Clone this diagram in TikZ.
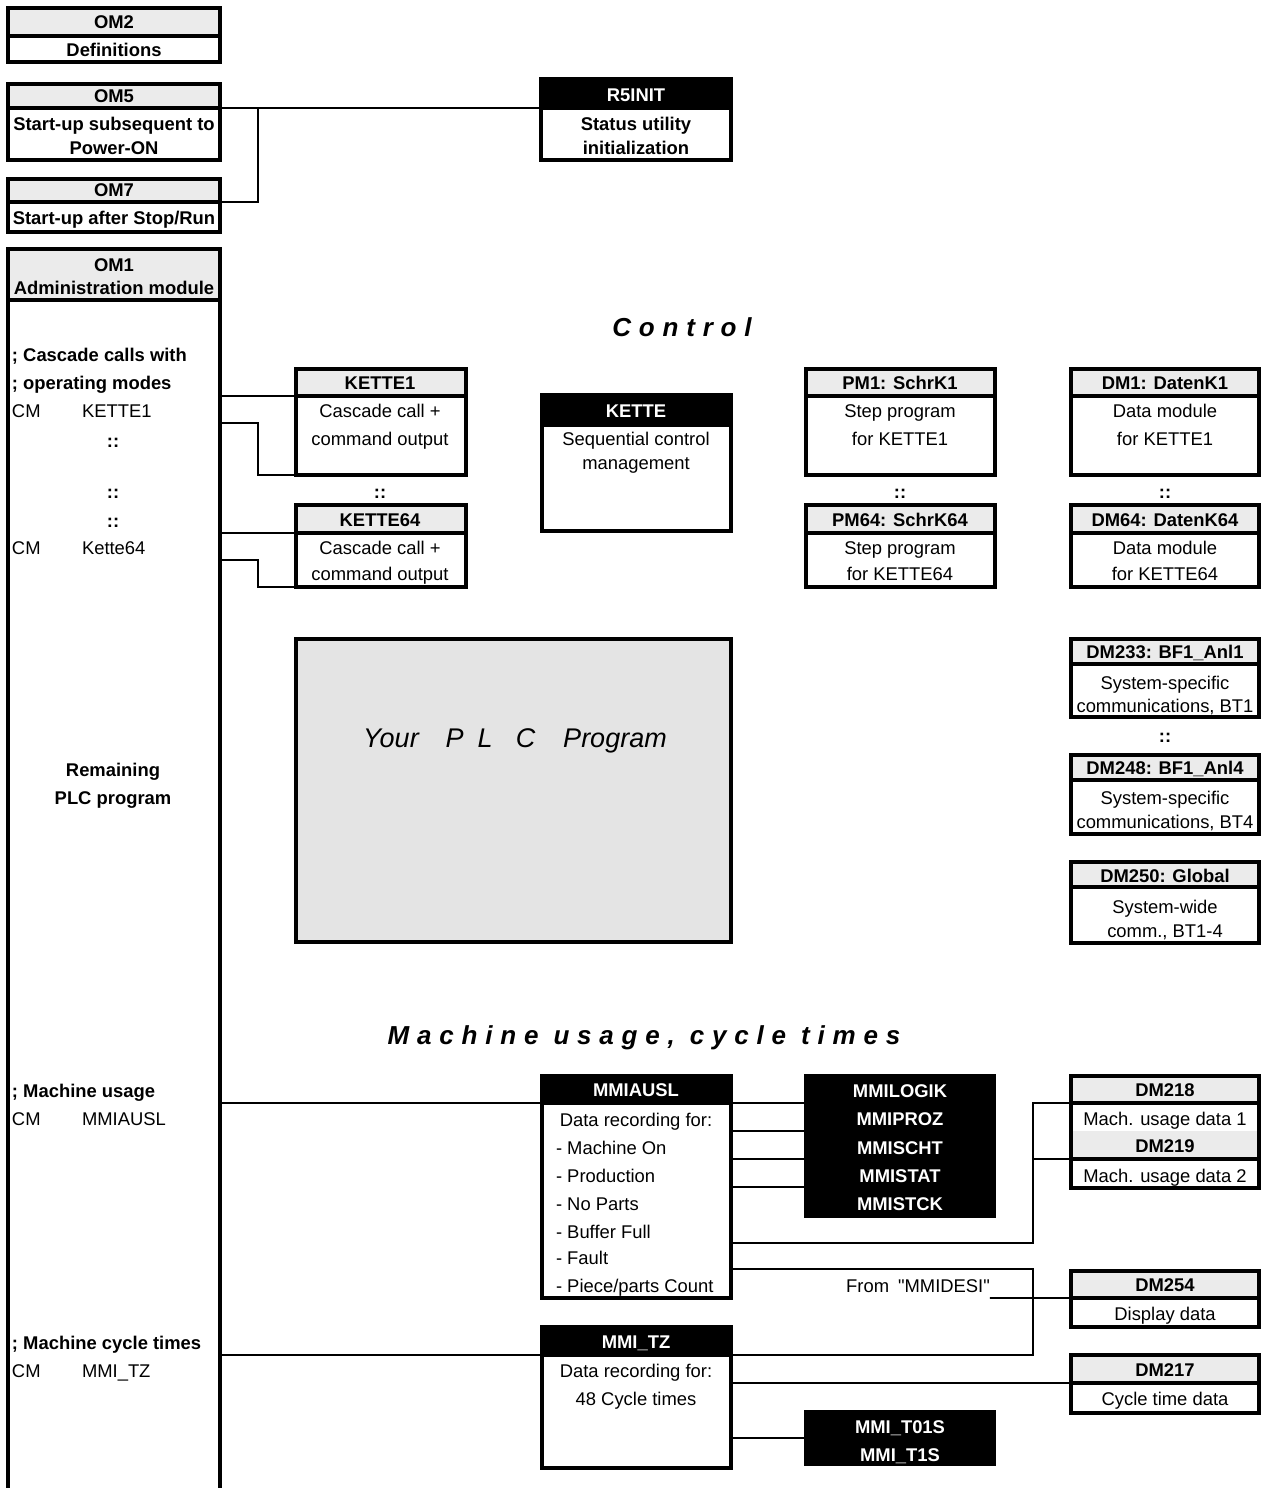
\documentclass[tikz,border=0pt]{standalone}
\usepackage{fontspec}
\setmainfont{Liberation Sans}
\newfontfamily\spacedfont[LetterSpace=30]{Liberation Sans}
\newfontfamily\plainquotes[Ligatures=ResetAll]{Liberation Sans}
\usetikzlibrary{fit}

\definecolor{hdrgray}{HTML}{EBEBEB}
\definecolor{plcgray}{HTML}{E4E4E4}

\tikzset{
  every node/.style={inner sep=0pt, outer sep=0pt},
  frame/.style={draw=black, line width=4pt},
  hdr/.style={draw=black, line width=4pt, fill=hdrgray},
  blk/.style={draw=black, line width=4pt, fill=black},
  conn/.style={line width=2pt, draw=black},
  lbl/.style={font=\fontsize{18.4}{22}\selectfont, text height=13pt, text depth=0pt},
  blbl/.style={font=\fontsize{18.4}{22}\selectfont\bfseries, text height=13pt, text depth=0pt},
  wlbl/.style={blbl, text=white},
  title/.style={font=\fontsize{26}{30}\selectfont\spacedfont\bfseries\itshape, text height=19pt, text depth=0pt},
}

% module box: name, x1, y1, x2, y of header divider, y2, header style
\newcommand\modbox[7]{%
  \node[frame, fit={(#2,#3) (#4,#6)}] (#1) {};
  \node[#7, fit={(#2,#3) (#4,#5)}] (#1h) {};
}

\begin{document}
\begin{tikzpicture}[x=1pt,y=-1pt]
\clip (0,0) rectangle (1261,1488);
\fill[white] (0,0) rectangle (1261,1488);

% ---------- modules ----------
\modbox{om2}{8}{8}{220}{36}{62}{hdr}
\modbox{om5}{8}{84}{220}{108}{160}{hdr}
\modbox{om7}{8}{179}{220}{202}{232}{hdr}
\modbox{om1}{8}{249}{220}{300}{1520}{hdr}
\modbox{r5init}{541}{79}{731}{108}{160}{blk}
\modbox{kette1}{296}{369}{466}{396}{475}{hdr}
\modbox{kette64}{296}{505}{466}{533}{587}{hdr}
\modbox{kette}{542}{395}{731}{425}{531}{blk}
\modbox{pm1}{806}{369}{995}{396}{475}{hdr}
\modbox{pm64}{806}{505}{995}{533}{587}{hdr}
\modbox{dm1}{1071}{369}{1259}{396}{475}{hdr}
\modbox{dm64}{1071}{505}{1259}{533}{587}{hdr}
\modbox{dm233}{1071}{639}{1259}{664}{717}{hdr}
\modbox{dm248}{1071}{755}{1259}{780}{834}{hdr}
\modbox{dm250}{1071}{862}{1259}{887}{943}{hdr}
\modbox{mmiausl}{542}{1076}{731}{1103}{1298}{blk}
\modbox{mmitz}{542}{1327}{731}{1355}{1468}{blk}
\modbox{dm254}{1071}{1271}{1259}{1298}{1327}{hdr}
\modbox{dm217}{1071}{1355}{1259}{1383}{1413}{hdr}

% DM218 and DM219 share one frame
\node[fill=hdrgray, fit={(1071,1131) (1259,1159)}] (dm219h) {};
\node[frame, fit={(1071,1076) (1259,1188)}] (dm218) {};
\node[hdr, fit={(1071,1076) (1259,1103)}] (dm218h) {};
\draw[line width=4pt] (dm219h.south west) -- (dm219h.south east);

% user program area and black function blocks
\node[draw=black, line width=4pt, fill=plcgray, fit={(296,639) (731,942)}] (plc) {};
\node[fill=black, fit={(804,1074) (996,1218)}] (logik) {};
\node[fill=black, fit={(804,1410) (996,1466)}] (t01s) {};

% ---------- connectors ----------
\draw[conn] (om5h.south east) -- (r5inith.south west);
\draw[conn] (om7h.south east) -- ++(38,0) |- (om5h.south east);

\draw[conn] (om1.east |- kette1h.south) -- (kette1h.south west);
\coordinate (k1tap) at (220,423);
\draw[conn] (k1tap) -- ++(38,0) |- (kette1.south west);
\draw[conn] (om1.east |- kette64h.south) -- (kette64h.south west);
\coordinate (k64tap) at (220,560);
\draw[conn] (k64tap) -- ++(38,0) |- (kette64.south west);

\draw[conn] (om1.east |- mmiauslh.south) -- (mmiauslh.south west);
\draw[conn] (mmiauslh.south east) -- (mmiauslh.south east -| logik.west);
\coordinate (u2) at (731,1131);
\coordinate (u3) at (731,1159);
\coordinate (u4) at (731,1187);
\coordinate (u5) at (731,1243);
\coordinate (u6) at (731,1269);
\draw[conn] (u2) -- (u2 -| logik.west);
\draw[conn] (u3) -- (u3 -| logik.west);
\draw[conn] (u4) -- (u4 -| logik.west);
\draw[conn] (u5) -- ++(302,0) |- (dm218h.south west);
\draw[conn] (dm219h.south west) -- ++(-38,0);
\draw[conn] (u6) -- ++(302,0) |- (mmitzh.south east);

\draw[conn] (om1.east |- mmitzh.south) -- (mmitzh.south west);
\draw[conn] (mmitz.east |- dm217h.south) -- (dm217h.south west);
\draw[conn] (mmitz.east |- t01s.west) -- (t01s.west);

% ---------- texts ----------
\node[blbl] (tom2) at (114,22) {OM2};
\node[blbl] (tom2b) at (114,50) {Definitions};
\node[blbl] (tom5) at (114,96) {OM5};
\node[blbl] (tom5b) at (114,124) {Start-up subsequent to};
\node[blbl] (tom5c) at (114,148) {Power-ON};
\node[blbl] (tom7) at (114,190) {OM7};
\node[blbl] (tom7b) at (114,218) {Start-up after Stop/Run};
\node[blbl] (tom1) at (114,265) {OM1};
\node[blbl] (tom1b) at (114,288) {Administration module};

\node[wlbl] (tr5) at (636,95) {R5INIT};
\node[blbl] (tr5b) at (636,124) {Status utility};
\node[blbl] (tr5c) at (636,148) {initialization};

\node[title] (tctrl) at (682,327) {Control};

\node[blbl, anchor=west] (l1) at (12,355) {; Cascade calls with};
\node[blbl, anchor=west] (l2) at (12,383) {; operating modes};
\node[lbl, anchor=west] (l3) at (12,411) {CM};
\node[lbl, anchor=west] (l3b) at (82,411) {KETTE1};
\node[blbl] (l4) at (113,441) {::};
\node[blbl] (l5) at (113,492) {::};
\node[blbl] (l6) at (113,521) {::};
\node[lbl, anchor=west] (l7) at (12,548) {CM};
\node[lbl, anchor=west] (l7b) at (82,548) {Kette64};
\node[blbl] (l8) at (113,770) {Remaining};
\node[blbl] (l9) at (113,798) {PLC program};
\node[blbl, anchor=west] (l10) at (12,1091) {; Machine usage};
\node[lbl, anchor=west] (l11) at (12,1119) {CM};
\node[lbl, anchor=west] (l11b) at (82,1119) {MMIAUSL};
\node[blbl, anchor=west] (l12) at (12,1343) {; Machine cycle times};
\node[lbl, anchor=west] (l13) at (12,1371) {CM};
\node[lbl, anchor=west] (l13b) at (82,1371) {MMI\_TZ};

\node[blbl] (tk1) at (380,383) {KETTE1};
\node[lbl] (tk1b) at (380,411) {Cascade call +};
\node[lbl] (tk1c) at (380,439) {command output};
\node[blbl] (tk1d) at (380,492) {::};
\node[blbl] (tk64) at (380,520) {KETTE64};
\node[lbl] (tk64b) at (380,548) {Cascade call +};
\node[lbl] (tk64c) at (380,574) {command output};

\node[wlbl] (tk) at (636,411) {KETTE};
\node[lbl] (tkb) at (636,439) {Sequential control};
\node[lbl] (tkc) at (636,463) {management};

\node[blbl] (tp1) at (900,383) {PM1: SchrK1};
\node[lbl] (tp1b) at (900,411) {Step program};
\node[lbl] (tp1c) at (900,439) {for KETTE1};
\node[blbl] (tp1d) at (900,492) {::};
\node[blbl] (tp64) at (900,520) {PM64: SchrK64};
\node[lbl] (tp64b) at (900,548) {Step program};
\node[lbl] (tp64c) at (900,574) {for KETTE64};

\node[blbl] (td1) at (1165,383) {DM1: DatenK1};
\node[lbl] (td1b) at (1165,411) {Data module};
\node[lbl] (td1c) at (1165,439) {for KETTE1};
\node[blbl] (td1d) at (1165,492) {::};
\node[blbl] (td64) at (1165,520) {DM64: DatenK64};
\node[lbl] (td64b) at (1165,548) {Data module};
\node[lbl] (td64c) at (1165,574) {for KETTE64};

\node[font=\fontsize{27}{30}\selectfont\itshape, text height=19pt, text depth=0pt] (tplc) at (515,738)
  {Your\hspace{27pt}P\hspace{14pt}L\hspace{23pt}C\hspace{28pt}Program};

\node[blbl] (td233) at (1165,652) {DM233: BF1\_Anl1};
\node[lbl] (td233b) at (1165,683) {System-specific};
\node[lbl] (td233c) at (1165,706) {communications, BT1};
\node[blbl] (td233d) at (1165,736) {::};
\node[blbl] (td248) at (1165,768) {DM248: BF1\_Anl4};
\node[lbl] (td248b) at (1165,798) {System-specific};
\node[lbl] (td248c) at (1165,822) {communications, BT4};
\node[blbl] (td250) at (1165,876) {DM250: Global};
\node[lbl] (td250b) at (1165,907) {System-wide};
\node[lbl] (td250c) at (1165,931) {comm., BT1-4};

\node[title] (tmach) at (644,1035) {Machine usage, cycle times};

\node[wlbl] (tma) at (636,1090) {MMIAUSL};
\node[lbl] (tmab) at (636,1120) {Data recording for:};
\node[lbl, anchor=west] (tma1) at (556,1148) {- Machine On};
\node[lbl, anchor=west] (tma2) at (556,1176) {- Production};
\node[lbl, anchor=west] (tma3) at (556,1204) {- No Parts};
\node[lbl, anchor=west] (tma4) at (556,1232) {- Buffer Full};
\node[lbl, anchor=west] (tma5) at (556,1258) {- Fault};
\node[lbl, anchor=west] (tma6) at (556,1286) {- Piece/parts Count};

\node[wlbl] (tlg1) at (900,1091) {MMILOGIK};
\node[wlbl] (tlg2) at (900,1119) {MMIPROZ};
\node[wlbl] (tlg3) at (900,1148) {MMISCHT};
\node[wlbl] (tlg4) at (900,1176) {MMISTAT};
\node[wlbl] (tlg5) at (900,1204) {MMISTCK};

\node[blbl] (td218) at (1165,1090) {DM218};
\node[lbl] (td218b) at (1165,1119) {Mach. usage data 1};
\node[blbl] (td219) at (1165,1146) {DM219};
\node[lbl] (td219b) at (1165,1176) {Mach. usage data 2};

\node[lbl, font=\fontsize{18.4}{22}\selectfont\plainquotes] (tfrom) at (918,1286) {From\hspace{9pt}"MMIDESI"};
\draw[conn] (dm254h.south west) -- (dm254h.south west -| tfrom.east) -- ++(4,0);

\node[blbl] (td254) at (1165,1285) {DM254};
\node[lbl] (td254b) at (1165,1314) {Display data};

\node[wlbl] (ttz) at (636,1342) {MMI\_TZ};
\node[lbl] (ttzb) at (636,1371) {Data recording for:};
\node[lbl] (ttzc) at (636,1399) {48 Cycle times};

\node[blbl] (td217) at (1165,1370) {DM217};
\node[lbl] (td217b) at (1165,1399) {Cycle time data};

\node[wlbl] (tt1) at (900,1427) {MMI\_T01S};
\node[wlbl] (tt2) at (900,1455) {MMI\_T1S};
\end{tikzpicture}
\end{document}
